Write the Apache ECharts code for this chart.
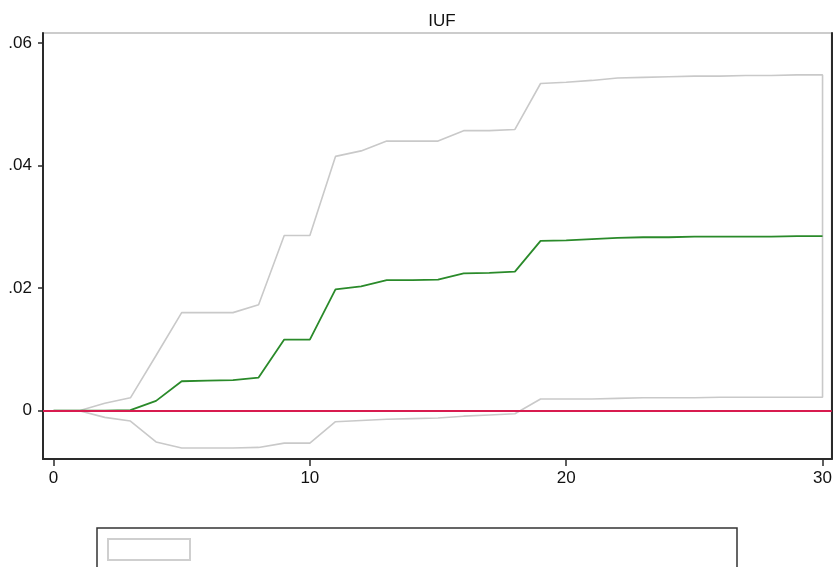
<!DOCTYPE html>
<html>
<head>
<meta charset="utf-8">
<script src="https://cdn.jsdelivr.net/npm/echarts@6/dist/echarts.min.js"></script>
<style>
  html, body { margin: 0; padding: 0; background: #fff; }
  #chart { width: 835px; height: 567px; }
</style>
</head>
<body>
<div id="chart"></div>
<script>
// Impulse response of IUF with its confidence band, steps 0..30
const steps = [0,1,2,3,4,5,6,7,8,9,10,11,12,13,14,15,16,17,18,19,20,21,22,23,24,25,26,27,28,29,30];
const irf   = [0,0,0,0.0001,0.0016,0.0048,0.0049,0.0050,0.0054,0.0116,0.0116,0.0198,0.0203,0.0213,0.0213,0.0214,0.0224,0.0225,0.0227,0.0277,0.0278,0.0280,0.0282,0.0283,0.0283,0.0284,0.0284,0.0284,0.0284,0.0285,0.0285];
const upper = [0,0,0.0012,0.0021,0.0090,0.0160,0.0160,0.0160,0.0173,0.0286,0.0286,0.0415,0.0424,0.0440,0.0440,0.0440,0.0457,0.0457,0.0459,0.0534,0.0536,0.0539,0.0543,0.0544,0.0545,0.0546,0.0546,0.0547,0.0547,0.0548,0.0548];
const lower = [0,0,-0.0011,-0.0017,-0.0051,-0.0061,-0.0061,-0.0061,-0.0060,-0.0053,-0.0053,-0.0018,-0.0016,-0.0014,-0.0013,-0.0012,-0.0009,-0.0007,-0.0005,0.0019,0.0019,0.0019,0.0020,0.0021,0.0021,0.0021,0.0022,0.0022,0.0022,0.0022,0.0022];
const xTicks = [0, 10, 20, 30];
const yTicks = [0, 0.02, 0.04, 0.06];
const title = 'IUF';

// Band outline: upper edge left-to-right, then lower edge back right-to-left
const bandOutline = steps.map((s, i) => [s, upper[i]])
  .concat(steps.slice().reverse().map((s, k) => [s, lower[steps.length - 1 - k]]));
const irfLine = steps.map((s, i) => [s, irf[i]]);

const FONT = '"Liberation Sans", Arial, sans-serif';
const AXIS_COLOR = '#2a2a2a';

const chart = echarts.init(document.getElementById('chart'), null, { renderer: 'canvas' });
chart.setOption({
  animation: false,
  backgroundColor: '#ffffff',
  title: {
    text: title,
    left: 437,
    top: 8,
    textAlign: 'center',
    textStyle: { fontFamily: FONT, fontSize: 17, fontWeight: 'normal', color: '#111' }
  },
  grid: {
    left: 43, right: 2, top: 33, bottom: 108,
    show: true, borderColor: '#cccccc', borderWidth: 2, backgroundColor: '#ffffff'
  },
  xAxis: {
    type: 'value',
    min: -0.41, max: 30.36,
    splitLine: { show: false },
    axisLine: { show: true, onZero: false, lineStyle: { color: AXIS_COLOR, width: 2 } },
    axisTick: { show: true, length: 7, lineStyle: { color: AXIS_COLOR, width: 1.5 }, customValues: xTicks },
    axisLabel: {
      customValues: xTicks, margin: 11,
      fontFamily: FONT, fontSize: 17, color: '#111',
      formatter: v => String(v)
    }
  },
  yAxis: [{
    type: 'value',
    min: -0.00789, max: 0.06164,
    splitLine: { show: false },
    axisLine: { show: true, onZero: false, lineStyle: { color: AXIS_COLOR, width: 2 } },
    axisTick: { show: true, length: 5, lineStyle: { color: AXIS_COLOR, width: 1.5 }, customValues: yTicks },
    axisLabel: {
      customValues: yTicks, margin: 11,
      fontFamily: FONT, fontSize: 17, color: '#111',
      formatter: v => v === 0 ? '0' : v.toFixed(2).replace(/^0/, '')
    }
  }, {
    type: 'value',
    position: 'right',
    min: -0.00789, max: 0.06164,
    splitLine: { show: false },
    axisLine: { show: true, onZero: false, lineStyle: { color: AXIS_COLOR, width: 2 } },
    axisTick: { show: false },
    axisLabel: { show: false }
  }],
  series: [
    {
      name: 'CI',
      type: 'line',
      data: bandOutline,
      symbol: 'none',
      z: 2,
      lineStyle: { color: '#c9c9c9', width: 1.6 }
    },
    {
      name: 'zero',
      type: 'line',
      data: [],
      markLine: {
        silent: true,
        symbol: 'none',
        label: { show: false },
        lineStyle: { color: '#d81b4f', width: 2, type: 'solid' },
        data: [{ yAxis: 0 }]
      },
      z: 3
    },
    {
      name: 'irf',
      type: 'line',
      data: irfLine,
      symbol: 'none',
      z: 4,
      lineStyle: { color: '#2a8a2a', width: 1.8 }
    }
  ],
  graphic: [
    {
      type: 'rect',
      shape: { x: 97, y: 528, width: 640, height: 60 },
      style: { fill: '#ffffff', stroke: '#333333', lineWidth: 1.5 }
    },
    {
      type: 'rect',
      shape: { x: 108, y: 539, width: 82, height: 21 },
      style: { fill: '#ffffff', stroke: '#cfcfcf', lineWidth: 2 }
    }
  ]
});
</script>
</body>
</html>
